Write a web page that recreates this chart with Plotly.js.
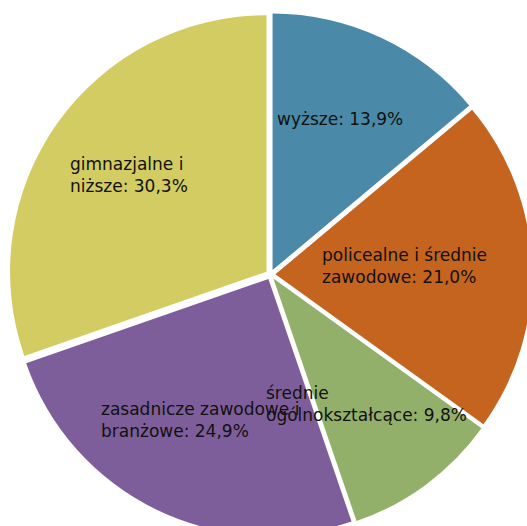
<!DOCTYPE html>
<html><head><meta charset="utf-8">
<script src="https://cdn.plot.ly/plotly-3.0.1.min.js"></script>
<style>
html,body{margin:0;padding:0;overflow:hidden;background:#fff;width:527px;height:526px}
#chart{position:absolute;left:0;top:0;width:541px;height:549px}
</style>
</head><body><div id="chart"></div>
<script>
// Data
const categories = ["wyższe", "policealne i średnie zawodowe", "średnie ogólnokształcące", "zasadnicze zawodowe i branżowe", "gimnazjalne i niższe"];
const shares = [13.9, 21.0, 9.8, 24.9, 30.3];
// wrapped forms of the category names as shown in the labels
const categoryLines = ["wyższe", "policealne i średnie<br>zawodowe", "średnie<br>ogólnokształcące", "zasadnicze zawodowe i<br>branżowe", "gimnazjalne i<br>niższe"];
const colors = ["#4A8AA8", "#C4641F", "#92B06A", "#7E5E9A", "#D2CC62"];

// Layout (label anchor points in px of the plot box: left edge, vertical middle)
const W = 541, H = 549;
const labelPx = [[275, 119], [320, 265.5], [264, 404], [99, 420], [68, 175]];

const fmt = v => v.toFixed(1).replace('.', ',') + '%';

const annotations = categories.map((c, i) => ({
  text: categoryLines[i] + ': ' + fmt(shares[i]),
  xref: 'paper', yref: 'paper',
  x: labelPx[i][0] / W, y: 1 - labelPx[i][1] / H,
  xanchor: 'left', yanchor: 'middle', align: 'left',
  showarrow: false,
  font: {family: 'DejaVu Sans', size: 17, color: '#111'}
}));

const trace = {
  type: 'pie',
  labels: categories,
  values: shares,
  sort: false,
  direction: 'clockwise',
  rotation: 0,
  pull: shares.map(() => 0.019),
  marker: {colors: colors, line: {width: 0}},
  textinfo: 'none',
  hoverinfo: 'skip',
  showlegend: false,
  domain: {x: [0.0169, 0.9831], y: [0, 1]}
};

Plotly.newPlot('chart', [trace], {
  width: W, height: H,
  margin: {l: 0, r: 0, t: 0, b: 0},
  paper_bgcolor: '#fff',
  showlegend: false,
  annotations: annotations
}, {staticPlot: true});
</script>
</body></html>
